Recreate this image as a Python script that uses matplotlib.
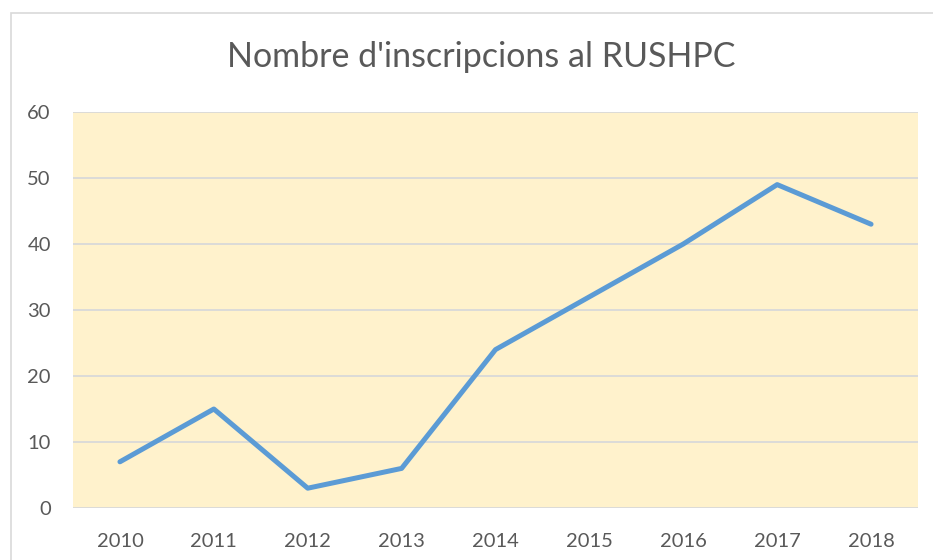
import matplotlib
matplotlib.use('Agg')

import matplotlib.pyplot as plt
from matplotlib.patches import Rectangle

# inscriptions per year
anys = ["2010", "2011", "2012", "2013", "2014", "2015", "2016", "2017", "2018"]
inscripcions = [7, 15, 3, 6, 24, 32, 40, 49, 43]

W, H = 933, 560
fig = plt.figure(figsize=(W / 100, H / 100), dpi=100)
fig.patch.set_facecolor("white")

# chart frame, open on the right and bottom
fig.patches.append(Rectangle((11 / W, -0.1), 2.0, 1 - 13 / H + 0.1,
                             transform=fig.transFigure, fill=False,
                             edgecolor="#d9d9d9", linewidth=1.2))

ax = fig.add_axes([73 / W, 1 - 508 / H, (918 - 73) / W, (508 - 112) / H])
ax.set_facecolor("#fff2cc")

x = range(len(anys))
ax.plot(x, inscripcions, color="#5b9bd5", linewidth=3.6,
        solid_capstyle="round", solid_joinstyle="round", zorder=3)

ax.set_xlim(-0.5, len(anys) - 0.5)
ax.set_ylim(0, 60)
ax.set_yticks(range(0, 61, 10))
ax.set_xticks(list(x))
ax.set_xticklabels(anys)

ax.grid(axis="y", color="#d9d9d9", linewidth=1.3)
ax.set_axisbelow(True)
for s in ax.spines.values():
    s.set_visible(False)
ax.tick_params(length=0, labelsize=14.5, colors="#595959")
ax.tick_params(axis="x", pad=18)
ax.tick_params(axis="y", pad=16)
for lab in ax.get_xticklabels() + ax.get_yticklabels():
    lab.set_family("Lato")

fig.text(481 / W, 1 - 57 / H, "Nombre d'inscripcions al RUSHPC",
         ha="center", va="center", fontsize=24.5, color="#595959",
         family="Lato")

fig.savefig("out.png", dpi=100)
